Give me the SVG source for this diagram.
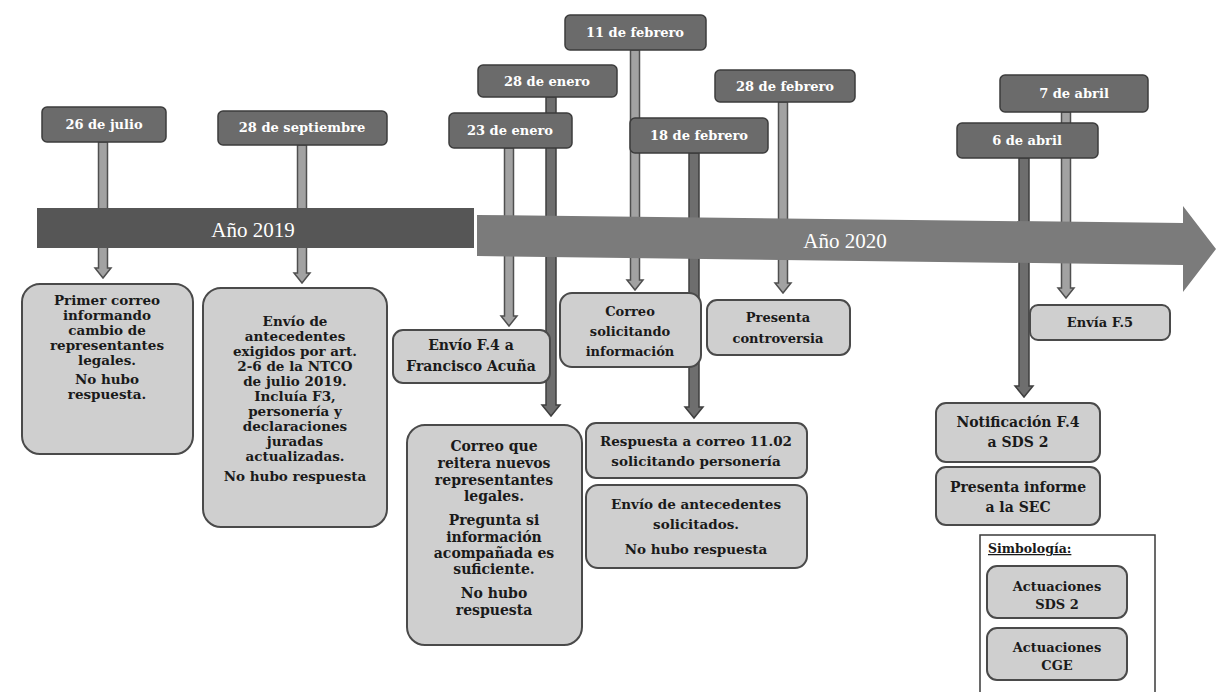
<svg xmlns="http://www.w3.org/2000/svg" width="1217" height="692" viewBox="0 0 1217 692">
<style>
.date rect{fill:#6b6b6b;stroke:#3c3c3c;stroke-width:1.5}
.date text{fill:#fff;font-family:"DejaVu Serif","Liberation Serif",serif;font-weight:bold;font-size:13px;text-anchor:middle}
.ev rect{fill:#cfcfcf;stroke:#4a4a4a;stroke-width:2}
.ev text{fill:#1a1a1a;font-family:"DejaVu Serif","Liberation Serif",serif;font-weight:bold;font-size:13px;text-anchor:middle}
.ev.big text{font-size:13.5px}
.ev.wide text{font-size:14px}
.lt{fill:#a2a2a2;stroke:#4f4f4f;stroke-width:1.5}
.dk{fill:#6e6e6e;stroke:#3f3f3f;stroke-width:1.5}
.yr{fill:#fff;font-family:"Liberation Serif",serif;font-size:21px;text-anchor:middle}
</style>
<rect width="1217" height="692" fill="#fff"/>
<g id="connectors">
<path class="lt" d="M98.5 142V268H95L103 278L111 268H107.5V142Z"/>
<path class="lt" d="M297.5 145V273H294L302 283L310 273H306.5V145Z"/>
<path class="lt" d="M504.5 148V316H501L509 326L517 316H513.5V148Z"/>
<path class="dk" d="M546 97V405H542L551 416L560 405H556V97Z"/>
<path class="lt" d="M630.5 50V280H627L635 290L643 280H639.5V50Z"/>
<path class="dk" d="M689 153V407H685L694 418L703 407H699V153Z"/>
<path class="lt" d="M778.5 102V283H775L783 293L791 283H787.5V102Z"/>
<path class="dk" d="M1019 158V386H1015L1024 397L1033 386H1029V158Z"/>
<path class="lt" d="M1061.5 112V288H1058L1066 298L1074 288H1070.5V112Z"/>
</g>
<g id="bar2019">
<rect x="37" y="208" width="437" height="40" fill="#565656"/>
<text class="yr" x="253" y="237">Año 2019</text>
</g>
<g id="bar2020">
<path d="M477 215L1183 223V206L1216 249L1183 292V265L477 256Z" fill="#7b7b7b"/>
<text class="yr" x="845" y="248">Año 2020</text>
</g>
<g id="d-26jul" class="date"><rect x="42" y="107" width="124" height="35" rx="5"/><text x="104" y="129">26 de julio</text></g>
<g id="d-28sep" class="date"><rect x="218" y="111" width="169" height="34" rx="5"/><text x="302" y="132">28 de septiembre</text></g>
<g id="d-28ene" class="date"><rect x="478" y="65" width="139" height="32" rx="5"/><text x="547" y="86">28 de enero</text></g>
<g id="d-23ene" class="date"><rect x="449" y="113" width="123" height="35" rx="5"/><text x="510" y="135">23 de enero</text></g>
<g id="d-11feb" class="date"><rect x="565" y="15" width="141" height="35" rx="5"/><text x="635" y="37">11 de febrero</text></g>
<g id="d-18feb" class="date"><rect x="630" y="118" width="138" height="35" rx="5"/><text x="699" y="140">18 de febrero</text></g>
<g id="d-28feb" class="date"><rect x="715" y="70" width="140" height="32" rx="5"/><text x="785" y="91">28 de febrero</text></g>
<g id="d-7abr" class="date"><rect x="1000" y="75" width="148" height="37" rx="5"/><text x="1074" y="98">7 de abril</text></g>
<g id="d-6abr" class="date"><rect x="957" y="123" width="141" height="35" rx="5"/><text x="1027" y="145">6 de abril</text></g>
<g id="e-primer" class="ev big"><rect x="22" y="284" width="171" height="170" rx="18"/>
<text x="107" y="305">Primer correo</text><text x="107" y="320">informando</text><text x="107" y="335">cambio de</text><text x="107" y="350">representantes</text><text x="107" y="365">legales.</text><text x="107" y="384">No hubo</text><text x="107" y="399">respuesta.</text></g>
<g id="e-envio-ant" class="ev big"><rect x="203" y="288" width="184" height="239" rx="18"/>
<text x="295" y="326">Envío de</text><text x="295" y="341">antecedentes</text><text x="295" y="356">exigidos por art.</text><text x="295" y="371">2-6 de la NTCO</text><text x="295" y="386">de julio 2019.</text><text x="295" y="401">Incluía F3,</text><text x="295" y="416">personería y</text><text x="295" y="431">declaraciones</text><text x="295" y="446">juradas</text><text x="295" y="461">actualizadas.</text><text x="295" y="481">No hubo respuesta</text></g>
<g id="e-f4" class="ev wide"><rect x="393" y="330" width="157" height="53" rx="10"/>
<text x="471" y="350">Envío F.4 a</text><text x="471" y="371">Francisco Acuña</text></g>
<g id="e-correo-sol" class="ev"><rect x="560" y="293" width="141" height="74" rx="12"/>
<text x="630" y="316">Correo</text><text x="630" y="336">solicitando</text><text x="630" y="356">información</text></g>
<g id="e-controversia" class="ev"><rect x="707" y="300" width="143" height="55" rx="10"/>
<text x="778" y="322">Presenta</text><text x="778" y="343">controversia</text></g>
<g id="e-reitera" class="ev wide"><rect x="407" y="425" width="175" height="220" rx="18"/>
<text x="494" y="451">Correo que</text><text x="494" y="468">reitera nuevos</text><text x="494" y="485">representantes</text><text x="494" y="501">legales.</text><text x="494" y="525">Pregunta si</text><text x="494" y="542">información</text><text x="494" y="558">acompañada es</text><text x="494" y="574">suficiente.</text><text x="494" y="598">No hubo</text><text x="494" y="615">respuesta</text></g>
<g id="e-respuesta" class="ev big"><rect x="586" y="423" width="221" height="55" rx="10"/>
<text x="696" y="446">Respuesta a correo 11.02</text><text x="696" y="466">solicitando personería</text></g>
<g id="e-envio-sol" class="ev big"><rect x="586" y="485" width="221" height="83" rx="12"/>
<text x="696" y="509">Envío de antecedentes</text><text x="696" y="529">solicitados.</text><text x="696" y="554">No hubo respuesta</text></g>
<g id="e-f5" class="ev"><rect x="1030" y="305" width="140" height="35" rx="8"/>
<text x="1100" y="327">Envía F.5</text></g>
<g id="e-notif" class="ev wide"><rect x="936" y="403" width="164" height="59" rx="10"/>
<text x="1018" y="427">Notificación F.4</text><text x="1018" y="447">a SDS 2</text></g>
<g id="e-informe" class="ev wide"><rect x="936" y="467" width="164" height="58" rx="10"/>
<text x="1018" y="492">Presenta informe</text><text x="1018" y="512">a la SEC</text></g>
<g id="legend">
<rect x="980" y="535" width="175" height="160" fill="#fff" stroke="#3a3a3a" stroke-width="1.5"/>
<text x="988" y="553" font-family="DejaVu Serif, Liberation Serif, serif" font-weight="bold" font-size="12.5" text-decoration="underline" fill="#1a1a1a">Simbología:</text>
<g class="ev"><rect x="987" y="566" width="140" height="52" rx="10"/><text x="1057" y="591">Actuaciones</text><text x="1057" y="609">SDS 2</text></g>
<g class="ev"><rect x="987" y="628" width="140" height="52" rx="10"/><text x="1057" y="652">Actuaciones</text><text x="1057" y="670">CGE</text></g>
</g>
</svg>
